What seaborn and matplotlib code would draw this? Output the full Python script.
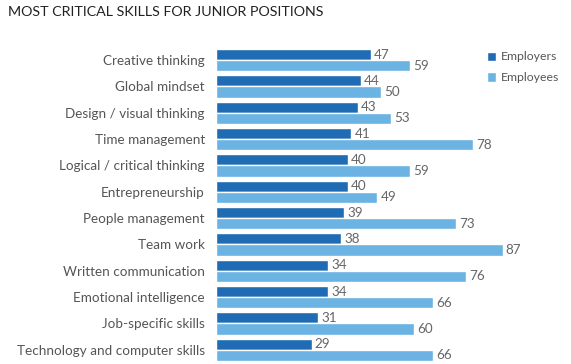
import pandas as pd
import seaborn as sns
import matplotlib.pyplot as plt

skills = ['Creative thinking', 'Global mindset', 'Design / visual thinking', 'Time management',
          'Logical / critical thinking', 'Entrepreneurship', 'People management', 'Team work',
          'Written communication', 'Emotional intelligence', 'Job-specific skills',
          'Technology and computer skills']
employers = [47, 44, 43, 41, 40, 40, 39, 38, 34, 34, 31, 29]
employees = [59, 50, 53, 78, 59, 49, 73, 87, 76, 66, 60, 66]

df = pd.DataFrame({'skill': skills * 2,
                   'value': employers + employees,
                   'group': ['Employers'] * len(skills) + ['Employees'] * len(skills)})

sns.set_style('white')
plt.rcParams['font.family'] = ['Lato', 'DejaVu Sans']

fig = plt.figure(figsize=(5.71, 3.64), dpi=100)
ax = fig.add_axes([216 / 571, 0.003, 1 - 216 / 571, 0.868])

sns.barplot(data=df, x='value', y='skill', hue='group', orient='h',
            palette=['#1f6cb4', '#6ab3e3'], width=0.85, ax=ax, saturation=1)

ax.set_xlim(0, 107.8)
ax.set_xlabel('')
ax.set_ylabel('')
ax.set_xticks([])
ax.tick_params(axis='y', length=0, pad=8, labelsize=9.7, labelcolor='#555555')
for s in ax.spines.values():
    s.set_visible(False)

for cont in ax.containers:
    for p in cont:
        w = p.get_width()
        ax.text(w + 1.0, p.get_y() + p.get_height() + 0.02, f'{int(w)}',
                va='bottom', ha='left', fontsize=9.7, color='#666666')

leg = ax.legend(loc='upper right', bbox_to_anchor=(0.985, 1.005), frameon=False,
                fontsize=8.8, handlelength=0.8, handleheight=0.8, handletextpad=0.4,
                labelspacing=0.8, borderaxespad=0.1)
for t in leg.get_texts():
    t.set_color('#555555')

fig.text(8 / 571, 1 - 12 / 364, 'MOST CRITICAL SKILLS FOR JUNIOR POSITIONS',
         fontsize=10.3, color='#222222', va='center', ha='left')

fig.savefig('out.png', dpi=100)
